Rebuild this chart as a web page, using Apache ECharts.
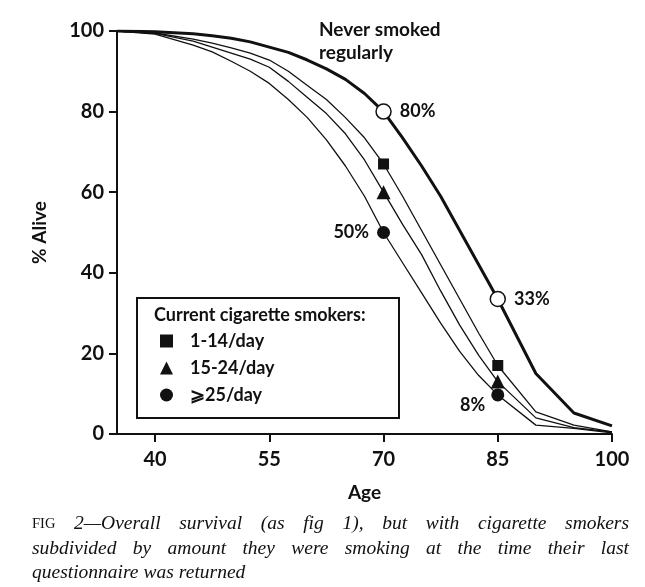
<!DOCTYPE html>
<html>
<head>
<meta charset="utf-8">
<script src="https://cdn.jsdelivr.net/npm/echarts@6.0.0/dist/echarts.min.js"></script>
<style>
  html, body { margin: 0; padding: 0; background: #fff; }
  #chart { width: 645px; height: 587px; }
</style>
</head>
<body>
<div id="chart"></div>
<script>
const ages = [35, 40, 45, 47.5, 50, 52.5, 55, 57.5, 60, 62.5, 65, 67.5, 70, 72.5, 75, 77.5, 80, 82.5, 85, 90, 95, 100];
const neverSmoked = [100, 99.8, 99.3, 98.8, 98.2, 97.3, 96, 94.7, 92.8, 90.6, 88, 84.5, 80, 73.5, 66.5, 59, 50.5, 42, 33.5, 15, 5.2, 2];
const smokers1to14 = [100, 99.5, 98, 97, 95.8, 94.5, 92.8, 90, 86.5, 83, 78.5, 73.5, 67, 59, 50.5, 42, 33.5, 25, 17, 5.5, 2.2, 0.5];
const smokers15to24 = [100, 99.4, 97.5, 96, 94.5, 93, 91, 87.5, 83.5, 79.5, 74.5, 68, 60, 52, 44.5, 35.5, 27, 19.5, 13, 4, 1.6, 0.5];
const smokers25plus = [100, 99.2, 96.5, 94.8, 92.5, 90, 87, 83, 78.5, 73, 66.5, 59, 50, 42.5, 35, 27.5, 20.5, 14.5, 9.7, 2.2, 1.4, 0.3];

const markerAges = [70, 85];
const neverLabels = ['80%', '33%'];
const heavyLabels = ['50%', '8%'];
const xTicks = [40, 55, 70, 85, 100];

const legendNames = ['1-14/day', '15-24/day', '⩾25/day'];
const captionLines = [
  'FIG 2—Overall survival (as fig 1), but with cigarette smokers',
  'subdivided by amount they were smoking at the time their last',
  'questionnaire was returned'
];

const FONT = 'Lato, "Open Sans", sans-serif';
const CAP_FONT = '"Liberation Serif", "DejaVu Serif", serif';
const WEIGHT = 'bold';

const pairs = (vals) => ages.map((a, i) => [a, vals[i]]);
const marks = (vals) => markerAges.map(a => [a, vals[ages.indexOf(a)]]);

const chart = echarts.init(document.getElementById('chart'));

// justified caption: measure words and spread them across the line
const W_LEFT = 32, W_RIGHT = 629;
const ctx = document.createElement('canvas').getContext('2d');
const capItalic = 'italic 19.5px ' + CAP_FONT;
const capSmall = '14.5px ' + CAP_FONT;
const caption = [];
captionLines.forEach((line, li) => {
  const words = line.split(' ');
  const fonts = words.map((w, wi) => (li === 0 && wi === 0) ? capSmall : capItalic);
  const widths = words.map((w, wi) => { ctx.font = fonts[wi]; return ctx.measureText(w).width; });
  const total = widths.reduce((s, v) => s + v, 0);
  const last = li === captionLines.length - 1;
  const gap = last ? 5 : (W_RIGHT - W_LEFT - total) / (words.length - 1);
  let x = W_LEFT;
  words.forEach((w, wi) => {
    caption.push({
      type: 'text', x: x, y: 524 + li * 24.5,
      style: { text: w, fill: '#111', font: fonts[wi], textVerticalAlign: 'middle' }
    });
    x += widths[wi] + gap;
  });
});

const txt = (size) => ({ fontFamily: FONT, fontSize: size, fontWeight: WEIGHT, color: '#111' });
const solid = { color: '#111', opacity: 1 };

const option = {
  animation: false,
  backgroundColor: '#fff',
  grid: { left: 117, right: 33, top: 31, bottom: 153, containLabel: false },
  xAxis: {
    type: 'value', min: 35, max: 100,
    name: 'Age', nameLocation: 'middle', nameGap: 49,
    nameTextStyle: txt(19),
    axisLine: { lineStyle: { color: '#111', width: 2 } },
    axisTick: { customValues: xTicks, length: 8, lineStyle: { color: '#111', width: 2 } },
    axisLabel: Object.assign({ customValues: xTicks, margin: 16 }, txt(20)),
    splitLine: { show: false }
  },
  yAxis: {
    type: 'value', min: 0, max: 100, interval: 20,
    name: '% Alive', nameLocation: 'middle', nameGap: 68, nameRotate: 90,
    nameTextStyle: txt(19),
    axisLine: { show: true, lineStyle: { color: '#111', width: 2 } },
    axisTick: { show: true, length: 8, lineStyle: { color: '#111', width: 2 } },
    axisLabel: Object.assign({ margin: 13 }, txt(20)),
    splitLine: { show: false }
  },
  legend: {
    orient: 'vertical', left: 160, top: 332, z: 20,
    itemWidth: 13, itemHeight: 13, itemGap: 9, padding: 0,
    itemStyle: { color: '#111', opacity: 1 },
    textStyle: Object.assign({ padding: [0, 0, 0, 12] }, txt(18)),
    data: [
      { name: legendNames[0], icon: 'rect' },
      { name: legendNames[1], icon: 'triangle' },
      { name: legendNames[2], icon: 'circle' }
    ]
  },
  graphic: [
    {
      type: 'rect', left: 136, top: 297, z: 0,
      shape: { width: 262, height: 120 },
      style: { fill: '#fff', stroke: '#111', lineWidth: 2 }
    },
    {
      type: 'text', left: 154, top: 306, z: 1,
      style: { text: 'Current cigarette smokers:', font: WEIGHT + ' 18px ' + FONT, fill: '#111' }
    },
    {
      type: 'text', left: 319, top: 18,
      style: { text: 'Never smoked\nregularly', font: WEIGHT + ' 19px ' + FONT, fill: '#111', lineHeight: 23 }
    },
    ...caption
  ],
  series: [
    { name: 'Never smoked regularly', type: 'line', data: pairs(neverSmoked), showSymbol: false,
      lineStyle: { color: '#111', width: 3 }, z: 3 },
    { name: 'l1', type: 'line', data: pairs(smokers1to14), showSymbol: false,
      lineStyle: { color: '#111', width: 1.3 }, z: 2 },
    { name: 'l2', type: 'line', data: pairs(smokers15to24), showSymbol: false,
      lineStyle: { color: '#111', width: 1.3 }, z: 2 },
    { name: 'l3', type: 'line', data: pairs(smokers25plus), showSymbol: false,
      lineStyle: { color: '#111', width: 1.3 }, z: 2 },
    { name: 'never marks', type: 'scatter', data: marks(neverSmoked), symbol: 'circle', symbolSize: 15, z: 5,
      itemStyle: { color: '#fff', opacity: 1, borderColor: '#111', borderWidth: 1.5 },
      label: Object.assign({ show: true, position: 'right', distance: 8,
        formatter: p => neverLabels[p.dataIndex] }, txt(18)) },
    { name: legendNames[0], type: 'scatter', data: marks(smokers1to14), symbol: 'rect', symbolSize: 11, z: 5,
      itemStyle: solid },
    { name: legendNames[1], type: 'scatter', data: marks(smokers15to24), symbol: 'triangle', symbolSize: 14, z: 5,
      itemStyle: solid },
    { name: legendNames[2], type: 'scatter', data: marks(smokers25plus), symbol: 'circle', symbolSize: 13, z: 5,
      itemStyle: solid,
      label: Object.assign({ show: true, position: 'left', distance: 8,
        formatter: p => heavyLabels[p.dataIndex] }, txt(18)),
      labelLayout: p => p.dataIndex === 1 ? { dx: 2, dy: 10 } : {} }
  ]
};

chart.setOption(option);
window.addEventListener('resize', () => chart.resize());
</script>
</body>
</html>
